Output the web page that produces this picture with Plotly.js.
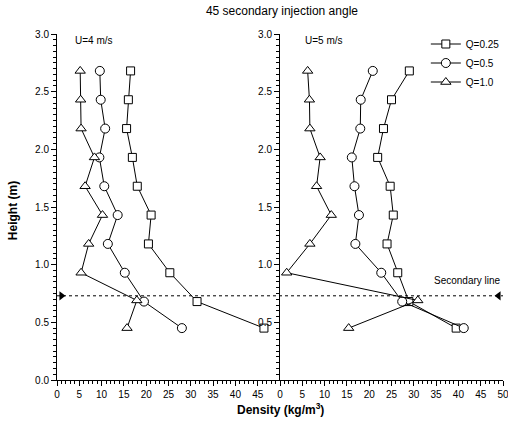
<!DOCTYPE html>
<html>
<head>
<meta charset="utf-8">
<script src="https://cdn.plot.ly/plotly-3.0.1.min.js"></script>
<style>html,body{margin:0;padding:0;background:#fff;}#chart{width:508px;height:425px;}</style>
</head>
<body>
<div id="chart"></div>
<script>
// Heights (m) at which density was measured
const heights = [2.68, 2.43, 2.18, 1.93, 1.68, 1.43, 1.18, 0.93, 0.68, 0.45];
// U = 4 m/s panel
const u4_q025 = [16.5, 16.0, 15.6, 16.9, 18.0, 21.1, 20.5, 25.3, 31.4, 46.4];
const u4_q05  = [9.6, 9.8, 10.8, 9.5, 10.6, 13.6, 11.4, 15.2, 19.5, 28.0];
const u4_q10  = [5.2, 5.3, 5.4, 8.4, 6.3, 10.2, 7.1, 5.4, 17.9, 15.7];
const u4_q10_heights = [2.68, 2.43, 2.18, 1.93, 1.68, 1.43, 1.18, 0.93, 0.69, 0.45];
// U = 5 m/s panel
const u5_q025 = [29.0, 25.0, 23.2, 21.9, 24.7, 25.4, 24.0, 26.4, 28.9, 39.5];
const u5_q05  = [20.8, 18.1, 18.0, 16.1, 16.7, 17.7, 16.9, 22.7, 27.4, 41.2];
const u5_q10  = [6.2, 6.6, 6.7, 9.0, 8.2, 11.5, 6.7, 1.5, 30.9, 15.4];
const u5_q10_heights = [2.68, 2.43, 2.18, 1.93, 1.68, 1.43, 1.18, 0.93, 0.69, 0.45];

const seriesNames = ['Q=0.25', 'Q=0.5', 'Q=1.0'];
const secondaryLine = 0.73;
const xTicksLeft = [0, 5, 10, 15, 20, 25, 30, 35, 40, 45];
const xTicksRight = [0, 5, 10, 15, 20, 25, 30, 35, 40, 45, 50];
const yTicksLeft = [0, 0.5, 1.0, 1.5, 2.0, 2.5, 3.0];
const yTicksRight = [0.5, 1.0, 1.5, 2.0, 2.5, 3.0];

const symbols = ['square', 'circle', 'triangle-up'];
const sizes = [8, 9, 9];

function mk(x, y, i, xa, ya, showlegend) {
  return {
    x: x, y: y, type: 'scatter', mode: 'lines+markers',
    name: seriesNames[i], legendgroup: seriesNames[i], showlegend: showlegend,
    xaxis: xa, yaxis: ya, cliponaxis: false,
    line: {color: '#000', width: 1},
    marker: {symbol: symbols[i], size: sizes[i], color: '#fff', line: {color: '#000', width: 1}}
  };
}

const data = [
  mk(u4_q025, heights, 0, 'x', 'y', false),
  mk(u4_q05, heights, 1, 'x', 'y', false),
  mk(u4_q10, u4_q10_heights, 2, 'x', 'y', false),
  mk(u5_q025, heights, 0, 'x2', 'y2', true),
  mk(u5_q05, heights, 1, 'x2', 'y2', true),
  mk(u5_q10, u5_q10_heights, 2, 'x2', 'y2', true),
  {x: [1], y: [secondaryLine], type: 'scatter', mode: 'markers', xaxis: 'x', yaxis: 'y', showlegend: false, cliponaxis: false,
   marker: {symbol: 'triangle-right', size: 8, color: '#000'}, hoverinfo: 'skip'},
  {x: [49], y: [secondaryLine], type: 'scatter', mode: 'markers', xaxis: 'x2', yaxis: 'y2', showlegend: false, cliponaxis: false,
   marker: {symbol: 'triangle-left', size: 8, color: '#000'}, hoverinfo: 'skip'}
];

const tickFont = {family: 'Liberation Sans, Arial, sans-serif', size: 10, color: '#000'};
const xCommon = {
  showgrid: false, zeroline: false, showline: true, linecolor: '#000', linewidth: 1,
  ticks: 'outside', ticklen: 5, tickwidth: 1, tickcolor: '#000', tickfont: tickFont,
  minor: {dtick: 1, ticks: 'outside', ticklen: 3, tickwidth: 1, tickcolor: '#000', showgrid: false},
  range: [0, 50], tickmode: 'array', fixedrange: true, ticklabeloverflow: 'allow'
};
const yCommon = {
  showgrid: false, zeroline: false, showline: true, linecolor: '#000', linewidth: 1,
  ticks: 'outside', ticklen: 5, tickwidth: 1, tickcolor: '#000', tickfont: tickFont,
  minor: {dtick: 0.05, tick0: 0, ticks: 'outside', ticklen: 3, tickwidth: 1, tickcolor: '#000', showgrid: false},
  range: [0, 3], tickmode: 'array', fixedrange: true
};

const layout = {
  width: 508, height: 425,
  margin: {l: 57, r: 5, t: 34, b: 45, autoexpand: false},
  paper_bgcolor: '#fff', plot_bgcolor: 'rgba(0,0,0,0)',
  font: {family: 'Liberation Sans, Arial, sans-serif', size: 10, color: '#000'},
  title: {text: '45 secondary injection angle', x: 0.555, xanchor: 'center', y: 0.975, yanchor: 'middle',
          font: {size: 12, color: '#000'}},
  xaxis: Object.assign({}, xCommon, {domain: [0, 0.5], anchor: 'y', tickvals: xTicksLeft, ticktext: xTicksLeft.map(String)}),
  xaxis2: Object.assign({}, xCommon, {domain: [0.5, 1], anchor: 'y2', tickvals: xTicksRight, ticktext: xTicksRight.map(String)}),
  yaxis: Object.assign({}, yCommon, {anchor: 'x', tickvals: yTicksLeft, ticktext: yTicksLeft.map(v => v.toFixed(1))}),
  yaxis2: Object.assign({}, yCommon, {anchor: 'x2', tickvals: yTicksRight, ticktext: yTicksRight.map(v => v.toFixed(1))}),
  showlegend: true,
  legend: {x: 0.827, y: 1.013, xanchor: 'left', yanchor: 'top', bgcolor: 'rgba(0,0,0,0)',
           font: {size: 10, color: '#000'}, itemwidth: 30, tracegroupgap: 0},
  shapes: [
    {type: 'line', xref: 'paper', yref: 'y', x0: 0, x1: 1, y0: secondaryLine, y1: secondaryLine,
     line: {color: '#000', width: 1, dash: 'dot'}}
  ],
  annotations: [
    {text: 'U=4 m/s', xref: 'x', yref: 'y', x: 3.6, y: 2.94, xanchor: 'left', yanchor: 'middle', showarrow: false, font: {size: 10}},
    {text: 'U=5 m/s', xref: 'x2', yref: 'y2', x: 5.2, y: 2.94, xanchor: 'left', yanchor: 'middle', showarrow: false, font: {size: 10}},
    {text: 'Secondary line', xref: 'x2', yref: 'y2', x: 50, y: 0.86, xanchor: 'right', yanchor: 'middle', showarrow: false, font: {size: 10}},
    {text: '<b>Density (kg/m<sup>3</sup>)</b>', xref: 'paper', yref: 'paper', x: 0.5, y: -0.085, xanchor: 'center', yanchor: 'middle', showarrow: false, font: {size: 12}},
    {text: '<b>Height (m)</b>', xref: 'paper', yref: 'paper', x: -0.097, y: 0.49, xanchor: 'center', yanchor: 'middle', textangle: -90, showarrow: false, font: {size: 12}}
  ]
};

Plotly.newPlot('chart', data, layout, {staticPlot: true, displayModeBar: false});
</script>
</body>
</html>
